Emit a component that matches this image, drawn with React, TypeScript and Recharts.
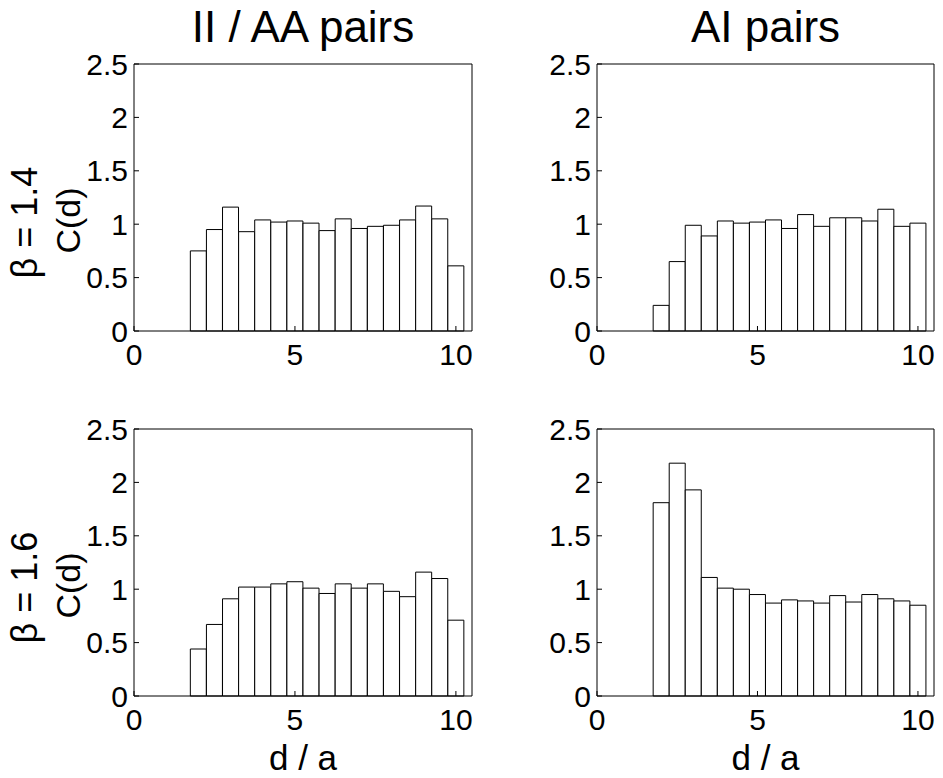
import { BarChart, Bar, XAxis, YAxis } from 'recharts';

const binCenters = [2, 2.5, 3, 3.5, 4, 4.5, 5, 5.5, 6, 6.5, 7, 7.5, 8, 8.5, 9, 9.5, 10];

const iiAaBeta14 = [0.75, 0.95, 1.16, 0.93, 1.04, 1.02, 1.03, 1.01, 0.94, 1.05, 0.96, 0.98, 0.99, 1.04, 1.17, 1.05, 0.61];
const aiBeta14 = [0.24, 0.65, 0.99, 0.89, 1.03, 1.01, 1.02, 1.04, 0.96, 1.09, 0.98, 1.06, 1.06, 1.03, 1.14, 0.98, 1.01];
const iiAaBeta16 = [0.44, 0.67, 0.91, 1.02, 1.02, 1.05, 1.07, 1.01, 0.96, 1.05, 1.01, 1.05, 0.98, 0.93, 1.16, 1.1, 0.71];
const aiBeta16 = [1.81, 2.18, 1.93, 1.11, 1.01, 1.0, 0.95, 0.87, 0.9, 0.89, 0.87, 0.94, 0.88, 0.95, 0.91, 0.89, 0.85];

const xTicks = [0, 5, 10];
const yTicks = [0, 0.5, 1, 1.5, 2, 2.5];

const columnTitles = ['II / AA pairs', 'AI pairs'];
const rowLabels = ['\u03b2 = 1.4', '\u03b2 = 1.6'];
const yLabel = 'C(d)';
const xLabel = 'd / a';

const FONT = '"Liberation Sans", Arial, sans-serif';

const toRows = (values: number[]) => binCenters.map((d, i) => ({ d, c: values[i] }));

interface PanelProps {
  values: number[];
  left: number;
  top: number;
  width: number;
  height: number;
  yAxisWidth: number;
  margin: { top: number; right: number; bottom: number; left: number };
}

// one histogram panel, boxed with inward ticks on all four sides
function Panel({ values, left, top, width, height, yAxisWidth, margin }: PanelProps) {
  const tickStyle = { fontSize: 30, fontFamily: FONT, fill: '#000' };
  return (
    <div style={{ position: 'absolute', left, top }}>
      <BarChart width={width} height={height} data={toRows(values)} margin={margin} barCategoryGap={0} barGap={0}>
        <XAxis
          dataKey="d"
          type="number"
          domain={[0, 10.5]}
          ticks={xTicks}
          height={40}
          tickSize={-5}
          tickMargin={18}
          stroke="#000"
          tick={tickStyle}
        />
        <XAxis
          xAxisId="top"
          orientation="top"
          type="number"
          domain={[0, 10.5]}
          ticks={xTicks}
          height={1}
          tickSize={-5}
          tick={false}
          stroke="#000"
        />
        <YAxis
          type="number"
          domain={[0, 2.5]}
          ticks={yTicks}
          width={yAxisWidth}
          tickSize={-5}
          tickMargin={11}
          stroke="#000"
          tick={tickStyle}
        />
        <YAxis
          yAxisId="right"
          orientation="right"
          type="number"
          domain={[0, 2.5]}
          ticks={yTicks}
          width={1}
          tickSize={-5}
          tick={false}
          stroke="#000"
        />
        <Bar dataKey="c" fill="#fff" stroke="#000" strokeWidth={1} isAnimationActive={false} />
        <Bar dataKey="c" xAxisId="top" yAxisId="right" fill="none" stroke="none" isAnimationActive={false} />
      </BarChart>
    </div>
  );
}

export default function App() {
  const plotCentersX = [303, 765.5];
  const plotCentersY = [197.5, 562.5];
  return (
    <div style={{ position: 'absolute', left: 0, top: 0, width: 943, height: 778, background: '#fff' }}>
      <Panel values={iiAaBeta14} left={0} top={0} width={480} height={380} yAxisWidth={134}
        margin={{ top: 63, right: 7, bottom: 9, left: 0 }} />
      <Panel values={aiBeta14} left={470} top={0} width={470} height={380} yAxisWidth={127}
        margin={{ top: 63, right: 5, bottom: 9, left: 0 }} />
      <Panel values={iiAaBeta16} left={0} top={380} width={480} height={398} yAxisWidth={134}
        margin={{ top: 48, right: 7, bottom: 42, left: 0 }} />
      <Panel values={aiBeta16} left={470} top={380} width={470} height={398} yAxisWidth={127}
        margin={{ top: 48, right: 5, bottom: 42, left: 0 }} />
      <svg width={943} height={778} style={{ position: 'absolute', left: 0, top: 0, pointerEvents: 'none' }}>
        {columnTitles.map((t, i) => (
          <text key={t} x={plotCentersX[i]} y={42} textAnchor="middle" fontSize={44} fontFamily={FONT} fill="#000">
            {t}
          </text>
        ))}
        {plotCentersX.map((cx, i) => (
          <text key={'xl' + i} x={cx} y={770} textAnchor="middle" fontSize={35} fontFamily={FONT} fill="#000">
            {xLabel}
          </text>
        ))}
        {plotCentersY.map((cy, i) => (
          <g key={'yl' + i}>
            <text x={80} y={cy + 23} textAnchor="middle" fontSize={34} fontFamily={FONT} fill="#000"
              transform={`rotate(-90 80 ${cy + 23})`}>
              {yLabel}
            </text>
            <text x={37} y={cy + 25} textAnchor="middle" fontSize={36} fontFamily={FONT} fill="#000"
              transform={`rotate(-90 37 ${cy + 25})`}>
              {rowLabels[i]}
            </text>
          </g>
        ))}
      </svg>
    </div>
  );
}
